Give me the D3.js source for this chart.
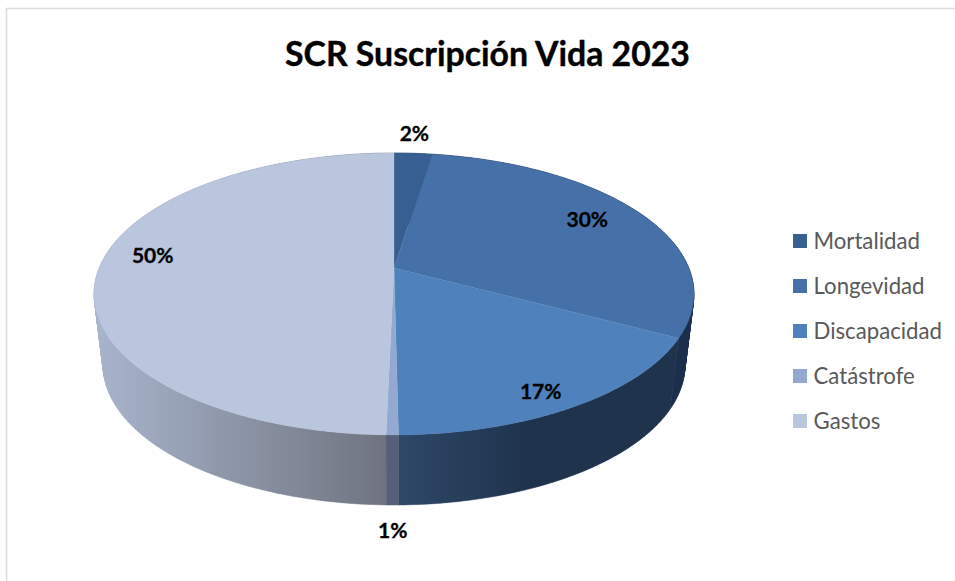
<!DOCTYPE html>
<html><head><meta charset="utf-8">
<script src="https://cdn.jsdelivr.net/npm/d3@7"></script>
<style>html,body{margin:0;padding:0;background:#fff;overflow:hidden}svg{display:block}text{font-family:Lato,"Noto Sans",sans-serif}</style>
</head><body><script>
const titleText = "SCR Suscripción Vida 2023";
const categories = ["Mortalidad","Longevidad","Discapacidad","Catástrofe","Gastos"];
const values = [2.45,30.35,17.0,0.55,49.65];
const labels = ["2%","30%","17%","1%","50%"];
const topColors = ["#375f92","#4571a8","#4f81bd","#93a9d1","#b9c6de"];
const wallStart = ["#1b2f4c","#1b2f4c","#2e4868","#565f78","#6d727d"];
const wallEnd = ["#1b2f4c","#1b2f4c","#1f334d","#565f78","#a9b5cd"];

const W=955,H=581;
const svg=d3.select("body").append("svg").attr("width",W).attr("height",H);
const defs=svg.append("defs");
svg.append("path").attr("d",`M6.5 ${H}V8.5H${W}`).attr("fill","none").attr("stroke","#dcdcdc").attr("stroke-width",1.5);

svg.append("text").attr("x",487.5).attr("y",66).attr("text-anchor","middle")
  .attr("font-size",33.8).attr("font-weight",700).attr("fill","#000")
  .attr("stroke","#000").attr("stroke-width",0.4).text(titleText);

// perspective projection of the tilted pie
const cx=394,y0=268,Rx=294.8,Hy=136.2,k=0.1844;
const project=(a,f=1)=>{const u=f*Math.sin(a),v=f*Math.cos(a),d=1+k*v;return [cx+Rx*u/d,y0-Hy*v/d];};
const lower=p=>[cx+(p[0]-cx)*291/300,365+(p[1]-294)*140/141];
const color=d3.scaleOrdinal(categories,topColors);
const arcs=d3.pie().sort(null).value(d=>d)(values);
const line=d3.line();
const rim=d=>{const n=Math.max(4,Math.ceil((d.endAngle-d.startAngle)/0.01));
  return d3.range(n+1).map(i=>project(d.startAngle+(d.endAngle-d.startAngle)*i/n));};

// outer walls, back to front: each wall is swept from rim to lower rim
const wallOrder=[0,4,1,2,3];
wallOrder.forEach(i=>{
  const d=arcs[i],pts=rim(d),low=pts.map(lower);
  const ext=d3.extent(pts.concat(low),p=>p[0]);
  const id="wall"+i;
  const g=defs.append("linearGradient").attr("id",id).attr("gradientUnits","userSpaceOnUse")
    .attr("x1",i===4?ext[1]:ext[0]).attr("x2",i===4?ext[0]:ext[1]).attr("y1",0).attr("y2",0);
  g.append("stop").attr("offset",0).attr("stop-color",wallStart[i]);
  if(i===2) g.append("stop").attr("offset",0.45).attr("stop-color",wallEnd[i]);
  g.append("stop").attr("offset",1).attr("stop-color",wallEnd[i]);
  const quads=d3.range(pts.length-1).map(j=>{
    const q=[pts[j],pts[j+1],low[j+1],low[j]];
    return line(d3.polygonArea(q)<0?q.reverse():q)+"Z";
  }).join("");
  svg.append("path").attr("d",quads).attr("fill",`url(#${id})`)
    .attr("stroke",`url(#${id})`).attr("stroke-width",0.5);
});

// top faces
arcs.forEach((d,i)=>{
  svg.append("path").attr("d",line([[cx,y0]].concat(rim(d)))+"Z")
    .attr("fill",color(categories[i])).attr("stroke",color(categories[i])).attr("stroke-width",0.3);
});

// value labels
const labelReach=[1.205,0.78,0.9,1.424,0.82];
const labelNudge=[[-2,-2],[0,-5],[-14,0],[1.5,-2],[0,-12]];
arcs.forEach((d,i)=>{
  const p=project((d.startAngle+d.endAngle)/2,labelReach[i]);
  svg.append("text").attr("x",p[0]+labelNudge[i][0]).attr("y",p[1]+labelNudge[i][1])
    .attr("text-anchor","middle").attr("dominant-baseline","central")
    .attr("font-size",21).attr("font-weight",700).attr("fill","#000")
    .attr("stroke","#000").attr("stroke-width",0.3).text(labels[i]);
});

// legend
const row=d3.scalePoint().domain(categories).range([241,421]);
categories.forEach(c=>{
  svg.append("rect").attr("x",793).attr("y",row(c)-7).attr("width",14).attr("height",14).attr("fill",color(c));
  svg.append("text").attr("x",813.5).attr("y",row(c)-1).attr("dominant-baseline","central")
    .attr("font-size",22.2).attr("fill","#595959").text(c);
});
</script></body></html>
